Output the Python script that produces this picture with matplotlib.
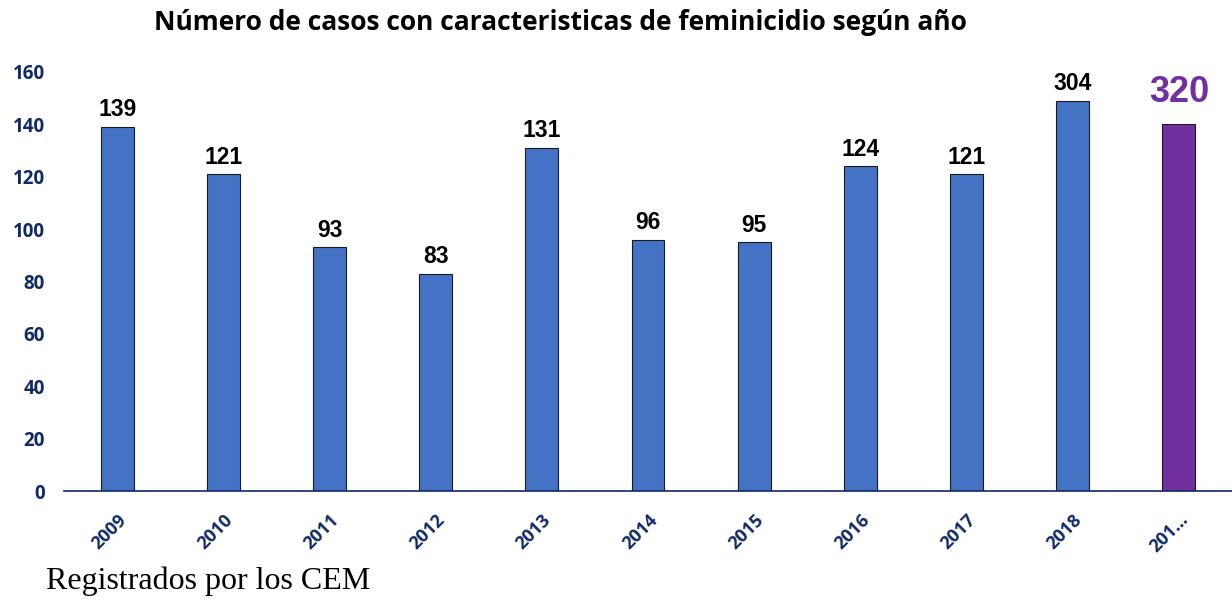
import matplotlib.pyplot as plt
import numpy as np

# data
years = ['2009', '2010', '2011', '2012', '2013', '2014', '2015', '2016', '2017', '2018', '201…']
bar_heights = [139, 121, 93, 83, 131, 96, 95, 124, 121, 149, 140]
labels = ['139', '121', '93', '83', '131', '96', '95', '124', '121', '304', '320']

blue = '#4472C4'
purple = '#7030A0'
navy = '#0F2A68'

fig = plt.figure(figsize=(12.32, 5.99), dpi=100)
ax = fig.add_axes([0.052, 0.18, 0.948, 0.70])

x = np.arange(len(years))
colors = [blue] * (len(years) - 1) + [purple]
ax.bar(x, bar_heights, width=0.31, color=colors, edgecolor='#1a1a1a', linewidth=0.8, zorder=2)

for i, (h, lab) in enumerate(zip(bar_heights, labels)):
    if i == len(years) - 1:
        ax.annotate(lab, (i, h), xytext=(0, 10), textcoords='offset points', ha='center', va='bottom',
                    fontsize=26, fontweight='bold', color=purple, family='Liberation Sans', annotation_clip=False)
    else:
        ax.annotate(lab, (i, h), xytext=(0, 4), textcoords='offset points', ha='center', va='bottom',
                    fontsize=16.5, fontweight='bold', color='black', family='Liberation Sans', annotation_clip=False)

ax.set_xlim(-0.5, 10.5)
ax.set_ylim(0, 160)
ax.set_yticks(range(0, 161, 20))
ax.set_xticks(x)
ax.set_xticklabels(years, rotation=45, ha='right', va='top', rotation_mode='anchor')

for s in ['top', 'right', 'left']:
    ax.spines[s].set_visible(False)
ax.spines['bottom'].set_color(navy)
ax.spines['bottom'].set_linewidth(1.2)
ax.tick_params(axis='both', length=0, colors=navy)
ax.tick_params(axis='y', pad=14)
ax.tick_params(axis='x', pad=14)
for t in ax.get_xticklabels():
    t.set_fontweight('bold')
    t.set_fontsize(13)
    t.set_family('Open Sans')
for t in ax.get_yticklabels():
    t.set_fontweight('bold')
    t.set_fontsize(13.5)
    t.set_family('Open Sans')

fig.text(0.455, 0.962, 'Número de casos con caracteristicas de feminicidio según año', ha='center', va='center',
         fontsize=19, fontweight='bold', family='Open Sans')
fig.text(0.037, 0.029, 'Registrados por los CEM', ha='left', va='center', fontsize=23, family='Liberation Serif')

fig.savefig('out.png', dpi=100)
